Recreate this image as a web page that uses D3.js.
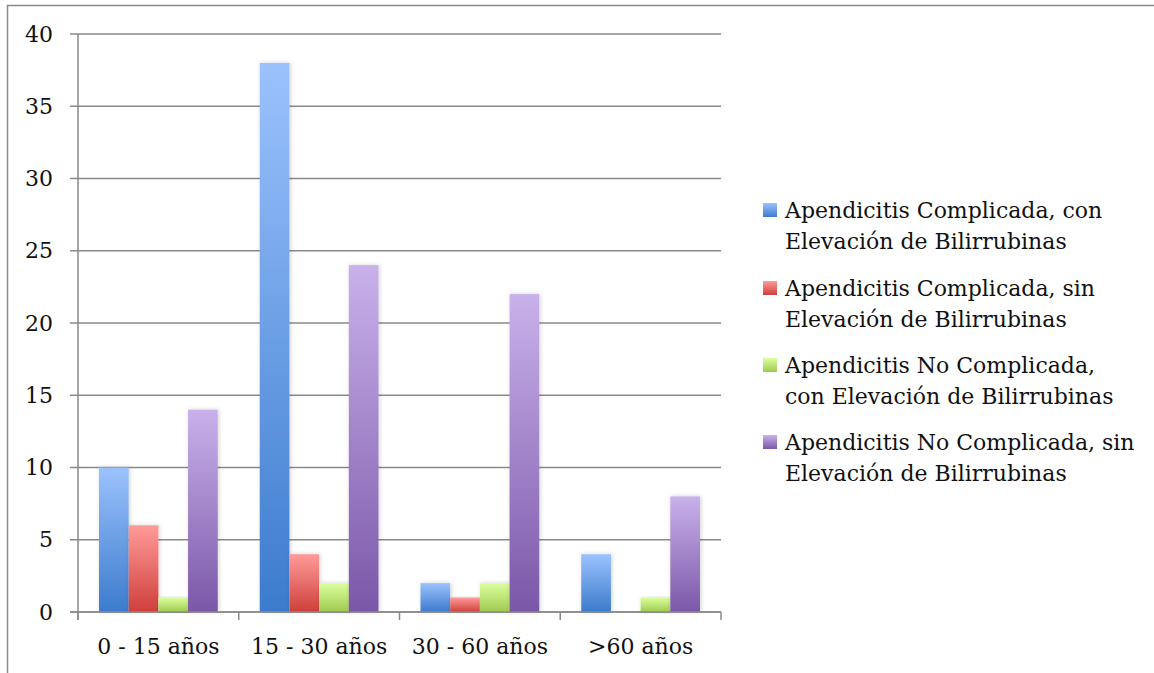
<!DOCTYPE html>
<html><head><meta charset="utf-8">
<script src="https://cdn.jsdelivr.net/npm/d3@7"></script>
<style>body{margin:0;background:#fff}svg{display:block}</style>
</head><body>
<svg id="c" width="1154" height="673"></svg>
<script>
const categories = ["0 - 15 años", "15 - 30 años", "30 - 60 años", ">60 años"];
const seriesNames = [
  ["Apendicitis Complicada, con", "Elevación de Bilirrubinas"],
  ["Apendicitis Complicada, sin", "Elevación de Bilirrubinas"],
  ["Apendicitis No Complicada,", "con Elevación de Bilirrubinas"],
  ["Apendicitis No Complicada, sin", "Elevación de Bilirrubinas"]
];
const complicadaCon = [10, 38, 2, 4];
const complicadaSin = [6, 4, 1, 0];
const noComplicadaCon = [1, 2, 2, 1];
const noComplicadaSin = [14, 24, 22, 8];
const yTicks = [0, 5, 10, 15, 20, 25, 30, 35, 40];

const series = [complicadaCon, complicadaSin, noComplicadaCon, noComplicadaSin];
const colors = [
  ["#9bc2fd", "#3c7bcd"],
  ["#ff9b9a", "#cf3f3a"],
  ["#dcff9e", "#9fca4f"],
  ["#c9b1eb", "#7b57a8"]
];
const font = "'DejaVu Serif', serif";
const fs = 22;

const svg = d3.select("#c");
const defs = svg.append("defs");
colors.forEach((c, i) => {
  const g = defs.append("linearGradient").attr("id", "g" + i)
    .attr("x1", 0).attr("y1", 0).attr("x2", 0).attr("y2", 1);
  g.append("stop").attr("offset", "0%").attr("stop-color", c[0]);
  g.append("stop").attr("offset", "100%").attr("stop-color", c[1]);
});
const f = defs.append("filter").attr("id", "sh").attr("x", "-30%").attr("y", "-10%").attr("width", "160%").attr("height", "120%");
f.append("feDropShadow").attr("dx", 1).attr("dy", 0).attr("stdDeviation", 2).attr("flood-color", "#000").attr("flood-opacity", 0.18);

// outer frame
svg.append("path").attr("d", "M7.5,673 V5.5 H1154").attr("fill", "none").attr("stroke", "#8a8a8a").attr("stroke-width", 1.5);

const L = 78, R = 721, T = 34, B = 612;
const x = d3.scaleBand().domain(categories).range([L, R]).paddingInner(0).paddingOuter(0);
const y = d3.scaleLinear().domain([0, 40]).range([B, T]);
const inner = 21;
const x1 = d3.scaleBand().domain(d3.range(series.length))
  .range([inner, x.bandwidth() - inner]);

// gridlines
svg.append("g").selectAll("line").data(yTicks).join("line")
  .attr("x1", L - 8).attr("x2", R).attr("y1", d => y(d)).attr("y2", d => y(d))
  .attr("stroke", "#8a8a8a").attr("stroke-width", 1.5);

// bars
const groups = svg.append("g").selectAll("g").data(categories).join("g")
  .attr("transform", d => `translate(${x(d)},0)`);
groups.selectAll("rect").data((c, ci) => series.map((s, si) => ({si, v: s[ci]})).filter(d => d.v > 0))
  .join("rect")
  .attr("x", d => x1(d.si)).attr("width", x1.bandwidth())
  .attr("y", d => y(d.v)).attr("height", d => y(0) - y(d.v))
  .attr("fill", d => `url(#g${d.si})`).attr("filter", "url(#sh)");

// axes lines
svg.append("line").attr("x1", L).attr("x2", L).attr("y1", T).attr("y2", B + 8)
  .attr("stroke", "#8a8a8a").attr("stroke-width", 1.5);
svg.append("line").attr("x1", L - 8).attr("x2", R).attr("y1", B).attr("y2", B)
  .attr("stroke", "#8a8a8a").attr("stroke-width", 1.5);
const catEdges = categories.map(c => x(c)).concat([R]);
svg.append("g").selectAll("line").data(catEdges).join("line")
  .attr("x1", d => d).attr("x2", d => d).attr("y1", B).attr("y2", B + 8)
  .attr("stroke", "#8a8a8a").attr("stroke-width", 1.5);

// y labels
svg.append("g").selectAll("text").data(yTicks).join("text")
  .attr("x", 53).attr("y", d => y(d)).attr("dy", "0.35em").attr("text-anchor", "end")
  .attr("font-family", font).attr("font-size", fs).attr("fill", "#111").text(d => d);

// x labels
svg.append("g").selectAll("text").data(categories).join("text")
  .attr("x", d => x(d) + x.bandwidth() / 2).attr("y", 654).attr("text-anchor", "middle")
  .attr("font-family", font).attr("font-size", fs).attr("fill", "#111").text(d => d);

// legend
const leg = svg.append("g");
const legY = [210, 288, 365, 442];
seriesNames.forEach((n, i) => {
  const g = leg.append("g").attr("transform", `translate(0,${legY[i]})`);
  g.append("rect").attr("x", 763).attr("y", -7).attr("width", 14).attr("height", 14).attr("fill", `url(#g${i})`);
  n.forEach((line, j) => {
    g.append("text").attr("x", 785).attr("y", j * 31).attr("dy", "0.35em")
      .attr("font-family", font).attr("font-size", fs).attr("fill", "#111").text(line);
  });
});
</script>
</body></html>
